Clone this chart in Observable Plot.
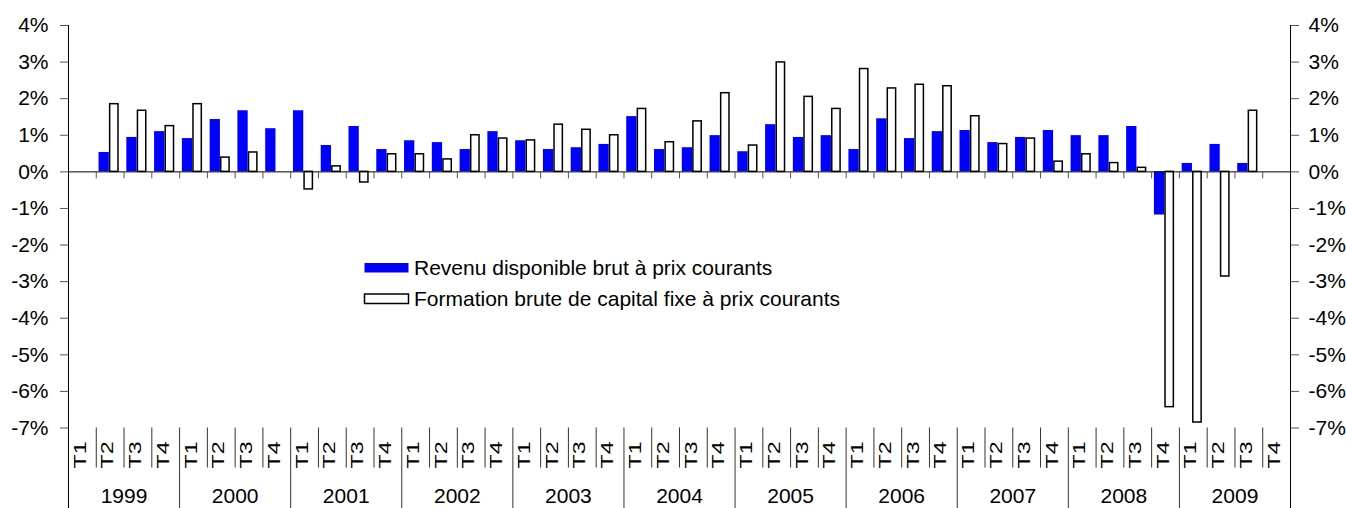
<!DOCTYPE html>
<html><head><meta charset="utf-8">
<script src="https://cdn.jsdelivr.net/npm/d3@7"></script>
<script src="https://cdn.jsdelivr.net/npm/@observablehq/plot@0.6"></script>
<style>
body{margin:0;background:#fff}
svg{display:block}
</style>
</head><body><div id="chart"></div>
<script>
const years = ["1999","2000","2001","2002","2003","2004","2005","2006","2007","2008","2009"];
const quarterLabels = ["T1","T2","T3","T4"];
const seriesNames = ["Revenu disponible brut à prix courants", "Formation brute de capital fixe à prix courants"];
// Revenu disponible brut (% variation trimestrielle)
const revenu = [null,0.53,0.94,1.10, 0.91,1.43,1.67,1.18, 1.67,0.72,1.24,0.61, 0.85,0.80,0.61,1.10,
  0.85,0.61,0.66,0.75, 1.51,0.61,0.66,0.99, 0.55,1.29,0.94,0.99, 0.61,1.45,0.91,1.10,
  1.13,0.80,0.94,1.13, 0.99,0.99,1.24,-1.18, 0.23,0.75,0.23,null];
// Formation brute de capital fixe
const fbcf = [null,1.85,1.67,1.25, 1.85,0.39,0.53,null, -0.48,0.15,-0.29,0.48, 0.48,0.34,1.00,0.91,
  0.86,1.29,1.15,1.00, 1.72,0.81,1.38,2.15, 0.72,2.99,2.05,1.72, 2.81,2.28,2.38,2.34,
  1.52,0.76,0.91,0.28, 0.48,0.24,0.11,-6.43, -6.85,-2.86,1.67,null];
const yTicks = [-7,-6,-5,-4,-3,-2,-1,0,1,2,3,4];

const rows = [];
years.forEach((y, yi) => quarterLabels.forEach((q, qi) => {
  const i = yi * 4 + qi;
  rows.push({i, year: y, q, rev: revenu[i], fb: fbcf[i]});
}));
const boundaries = d3.range(1, rows.length);
const quarterSeps = boundaries.filter(b => b % 4 !== 0);
const yearSeps = boundaries.filter(b => b % 4 === 0);
const yearRows = years.map((y, yi) => ({year: y, start: yi * 4}));
const font = "'Liberation Sans', Arial, sans-serif";

const plot = Plot.plot({
  width: 1346, height: 508,
  marginLeft: 68, marginRight: 56, marginTop: 25, marginBottom: 80.5,
  style: {fontFamily: font, background: "#fff", color: "#000", overflow: "visible"},
  x: {type: "linear", domain: [0, rows.length], axis: null},
  y: {domain: [-7, 4], axis: null},
  marks: [
    Plot.rectY(rows.filter(d => d.rev != null), {x1: d => d.i + 0.1, x2: d => d.i + 0.47, y1: 0, y2: "rev", fill: "#0000ff"}),
    Plot.rectY(rows.filter(d => d.fb != null), {x1: d => d.i + 0.5, x2: d => d.i + 0.8, y1: 0, y2: "fb", fill: "#fff", stroke: "#000", strokeWidth: 1.5}),
    Plot.ruleY([0], {stroke: "#000", strokeWidth: 1}),
    Plot.ruleX(boundaries, {x: d => d, y1: 0, y2: 0, insetBottom: -7, stroke: "#555"}),
    Plot.ruleX([0, rows.length], {insetBottom: -81, stroke: "#000"}),
    Plot.ruleX(quarterSeps, {x: d => d, y1: -7, y2: -7, insetBottom: -40, stroke: "#333"}),
    Plot.ruleX(yearSeps, {x: d => d, y1: -7, y2: -7, insetBottom: -81, stroke: "#333"}),
    Plot.axisY({anchor: "left", ticks: yTicks, tickFormat: d => d + "%", tickSize: 8, tickPadding: 12, fontSize: 21, stroke: "#555"}),
    Plot.axisY({anchor: "right", ticks: yTicks, tickFormat: d => d + "%", tickSize: 8, tickPadding: 10, fontSize: 21, stroke: "#555"}),
    Plot.text(rows, {x: d => d.i + 0.5, y: -7, dy: 27, dx: -2, rotate: -90, text: "q", fontSize: 16, className: "qlab"}),
    Plot.text(yearRows, {x: d => d.start + 2, y: -7, dy: 68, text: "year", fontSize: 21})
  ]
});

d3.select(plot).selectAll(".qlab text").attr("transform", function() {
  return d3.select(this).attr("transform") + " scale(1.45,1)";
});

// Legend placed inside the plot area, as in the reference
const svg = d3.select(plot);
const lg = svg.append("g").attr("font-family", font).attr("font-size", 21).attr("text-anchor", "start");
const legendItems = [
  {name: seriesNames[0], fill: "#0000ff", stroke: "none"},
  {name: seriesNames[1], fill: "#fff", stroke: "#000"}
];
legendItems.forEach((it, k) => {
  const cy = 268 + k * 31;
  lg.append("rect").attr("x", 364.5).attr("y", cy - 5).attr("width", 44).attr("height", 9.5)
    .attr("fill", it.fill).attr("stroke", it.stroke).attr("stroke-width", 1.5);
  lg.append("text").attr("x", 414).attr("y", cy).attr("dy", "0.35em").attr("text-anchor", "start")
    .attr("fill", "#000").text(it.name);
});

document.getElementById("chart").appendChild(plot);
</script>
</body></html>
